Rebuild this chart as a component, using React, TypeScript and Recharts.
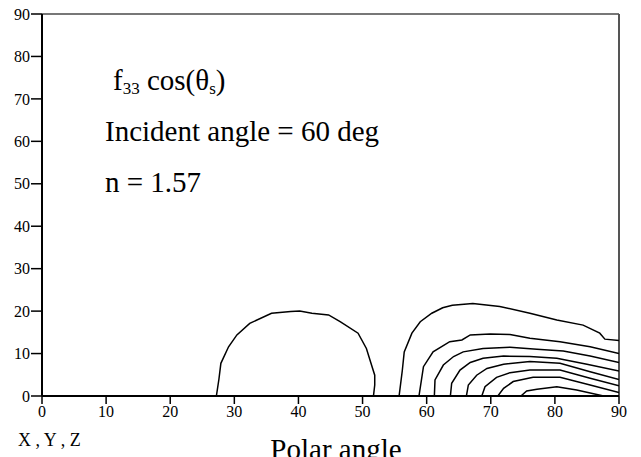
import { LineChart, Line, XAxis, YAxis, ReferenceLine } from 'recharts';

const FONT = '"Liberation Serif", "Times New Roman", Times, serif';

// tick values
const xTicks = [0, 10, 20, 30, 40, 50, 60, 70, 80, 90];
const yTicks = [0, 10, 20, 30, 40, 50, 60, 70, 80, 90];

// contour lines, [polar angle, azimuth] pairs
const domeLeft: number[][] = [
  [27.2, 0], [27.6, 4], [27.9, 7.7], [29.1, 11.6], [30.4, 14.4], [32.4, 17.1],
  [35.8, 19.5], [38.8, 19.9], [40.2, 20.0], [42.1, 19.5], [44.7, 19.1],
  [46.5, 17.5], [49.3, 14.8], [50.6, 11.2], [51.4, 7.3], [51.9, 4.9],
  [51.9, 2.6], [51.7, 0],
];
const level1: number[][] = [
  [55.7, 0], [56.2, 6], [56.5, 10.4], [57.7, 14.8], [59.0, 17.5], [60.8, 19.5],
  [62.5, 20.8], [64.0, 21.4], [67.2, 21.8], [71.4, 21.1], [76.1, 19.5],
  [80.3, 17.9], [84.4, 16.7], [87.0, 14.8], [87.8, 13.4], [90, 13.1],
];
const level2: number[][] = [
  [58.8, 0], [59.5, 6.9], [61.0, 10.4], [63.6, 12.8], [65.5, 13.2], [66.8, 14.4],
  [69.9, 14.6], [73.0, 14.5], [76.1, 13.6], [80.8, 12.8], [85.5, 11.6], [90, 10.0],
];
const level3: number[][] = [
  [61.2, 0], [61.3, 3.8], [62.6, 7.3], [64.2, 9.3], [65.7, 10.4], [68.8, 11.2],
  [73.0, 11.5], [77.2, 11.0], [81.3, 10.6], [85.5, 9.4], [90, 7.9],
];
const level4: number[][] = [
  [63.7, 0], [63.9, 3.0], [65.2, 6.1], [66.8, 7.9], [68.8, 8.9], [72.0, 9.4],
  [76.1, 9.3], [80.3, 8.9], [85.0, 7.5], [90, 5.9],
];
const level5: number[][] = [
  [66.2, 0], [66.5, 2.6], [67.8, 4.9], [69.4, 6.5], [72.0, 7.5], [76.1, 8.1],
  [80.8, 7.7], [85.5, 5.7], [90, 3.9],
];
const level6: number[][] = [
  [68.6, 0], [69.1, 2.2], [70.9, 4.4], [73.0, 5.5], [76.1, 6.1], [80.8, 6.1],
  [85.5, 4.2], [90, 2.4],
];
const level7: number[][] = [
  [71.1, 0], [72.0, 1.8], [73.5, 3.4], [76.6, 4.4], [80.8, 4.4], [85.5, 2.6], [90, 0.8],
];
const level8: number[][] = [
  [74.7, 0], [75.6, 1.2], [77.2, 1.6], [80.3, 2.2], [83.4, 1.4], [87.6, 0],
];

const contours = [domeLeft, level1, level2, level3, level4, level5, level6, level7, level8];

const toPoints = (arr: number[][]) => arr.map(([x, y]) => ({ x, y }));

export default function App() {
  const tickStyle = { fill: '#000', fontSize: 16, fontFamily: FONT };

  return (
    <div style={{ position: 'absolute', left: 0, top: 0, width: 641, height: 457, overflow: 'hidden', background: '#fff' }}>
      <LineChart width={641} height={457} margin={{ top: 14, right: 22, left: 0, bottom: 0 }}>
        <XAxis
          dataKey="x"
          type="number"
          domain={[0, 90]}
          ticks={xTicks}
          allowDataOverflow
          height={61}
          tickSize={8}
          tickMargin={2}
          tick={tickStyle}
          axisLine={{ stroke: '#000', strokeWidth: 2 }}
          tickLine={{ stroke: '#000', strokeWidth: 1.5 }}
        />
        <YAxis
          dataKey="y"
          type="number"
          domain={[0, 90]}
          ticks={yTicks}
          allowDataOverflow
          width={42}
          tickSize={11}
          tickMargin={1}
          tick={tickStyle}
          axisLine={{ stroke: '#000', strokeWidth: 2 }}
          tickLine={{ stroke: '#000', strokeWidth: 1.5 }}
        />
        <ReferenceLine y={90} stroke="#777" strokeWidth={2} />
        <ReferenceLine x={90} stroke="#555" strokeWidth={2} />
        {contours.map((c, i) => (
          <Line
            key={i}
            data={toPoints(c)}
            dataKey="y"
            type="linear"
            stroke="#000"
            strokeWidth={1.5}
            dot={false}
            activeDot={false}
            isAnimationActive={false}
          />
        ))}
      </LineChart>
      <svg
        width={641}
        height={457}
        style={{ position: 'absolute', left: 0, top: 0, pointerEvents: 'none', fontFamily: FONT }}
        fill="#000"
      >
        <text x={113} y={90} fontSize={29}>
          f<tspan fontSize={17} dy={4}>33</tspan>
          <tspan dy={-4}> cos(θ</tspan>
          <tspan fontSize={17} dy={4}>s</tspan>
          <tspan dy={-4}>)</tspan>
        </text>
        <text x={105} y={141} fontSize={29}>Incident angle = 60 deg</text>
        <text x={105} y={192} fontSize={29}>n = 1.57</text>
        <text x={18} y={446} fontSize={18}>X , Y , Z</text>
        <text x={336} y={459} fontSize={29} textAnchor="middle">Polar angle</text>
      </svg>
    </div>
  );
}
